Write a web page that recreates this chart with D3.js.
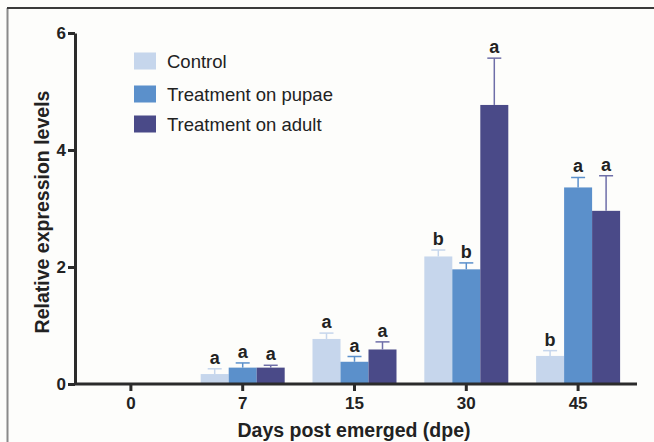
<!DOCTYPE html>
<meta charset="utf-8">
<script src="https://d3js.org/d3.v7.min.js"></script>
<style>
  body { margin: 0; background: #fdfdfb; }
  svg { display: block; font-family: "Liberation Sans", Arial, sans-serif; }
</style>
<div id="chart"></div>
<script>
// data
var days = ["0", "7", "15", "30", "45"];
var groups = ["Control", "Treatment on pupae", "Treatment on adult"];
var control = [0, 0.17, 0.77, 2.18, 0.48];
var controlErr = [0, 0.09, 0.10, 0.11, 0.09];
var pupae = [0, 0.28, 0.38, 1.96, 3.36];
var pupaeErr = [0, 0.08, 0.09, 0.11, 0.17];
var adult = [0, 0.28, 0.59, 4.77, 2.96];
var adultErr = [0, 0.04, 0.13, 0.80, 0.60];
var controlLetters = ["", "a", "a", "b", "b"];
var pupaeLetters = ["", "a", "a", "b", "a"];
var adultLetters = ["", "a", "a", "a", "a"];
var yTicks = [0, 2, 4, 6];

var colors = ["#c6d6ec", "#5b90cb", "#4a4a88"];
var errColors = ["#c6d6ec", "#5b90cb", "#6e6ea8"];

var width = 654, height = 442;
var svg = d3.select("#chart").append("svg")
  .attr("width", width).attr("height", height);

// frame of the figure
svg.append("line").attr("x1", 7.5).attr("x2", 7.5).attr("y1", 8).attr("y2", height)
  .attr("stroke", "#8a8a8a").attr("stroke-width", 2);
svg.append("line").attr("x1", 7).attr("x2", width).attr("y1", 8).attr("y2", 8)
  .attr("stroke", "#3a3a3a").attr("stroke-width", 2);

var x = d3.scaleBand().domain(days).range([75, 634]);
var y = d3.scaleLinear().domain([0, 6]).range([384, 33]);
var sub = d3.scaleBand().domain([0, 1, 2]).range([-42, 42]);

var series = [
  {vals: control, err: controlErr, letters: controlLetters},
  {vals: pupae, err: pupaeErr, letters: pupaeLetters},
  {vals: adult, err: adultErr, letters: adultLetters}
];

series.forEach(function(s, k) {
  var rows = days.map(function(d, i) {
    return {day: d, v: s.vals[i], e: s.err[i], l: s.letters[i]};
  }).filter(function(r) { return r.v > 0; });
  var g = svg.append("g");
  var cx = function(r) { return x(r.day) + x.bandwidth() / 2 + sub(k) + sub.bandwidth() / 2; };

  g.selectAll("rect").data(rows).enter().append("rect")
    .attr("x", function(r) { return x(r.day) + x.bandwidth() / 2 + sub(k); })
    .attr("width", sub.bandwidth())
    .attr("y", function(r) { return y(r.v); })
    .attr("height", function(r) { return y(0) - y(r.v); })
    .attr("fill", colors[k]);

  // error bars (upper only)
  g.selectAll(".err").data(rows).enter().append("line")
    .attr("x1", cx).attr("x2", cx)
    .attr("y1", function(r) { return y(r.v); })
    .attr("y2", function(r) { return y(r.v + r.e); })
    .attr("stroke", errColors[k]).attr("stroke-width", 1.5);
  g.selectAll(".cap").data(rows).enter().append("line")
    .attr("x1", function(r) { return cx(r) - 7; })
    .attr("x2", function(r) { return cx(r) + 7; })
    .attr("y1", function(r) { return y(r.v + r.e); })
    .attr("y2", function(r) { return y(r.v + r.e); })
    .attr("stroke", errColors[k]).attr("stroke-width", 1.5);

  g.selectAll("text").data(rows).enter().append("text")
    .attr("x", cx)
    .attr("y", function(r) { return y(r.v + r.e) - 5; })
    .attr("text-anchor", "middle")
    .style("font-size", "18px").style("font-weight", "bold")
    .attr("fill", "#222")
    .text(function(r) { return r.l; });
});

// axes
var yAxis = svg.append("g").attr("transform", "translate(75,0)")
  .call(d3.axisLeft(y).tickValues(yTicks).tickFormat(d3.format("d"))
    .tickSize(7).tickPadding(2).tickSizeOuter(0));
var xAxis = svg.append("g").attr("transform", "translate(0,384)")
  .call(d3.axisBottom(x).tickSize(7).tickPadding(6).tickSizeOuter(0));
xAxis.select(".domain").attr("d", "M75,0H637");
[yAxis, xAxis].forEach(function(a) {
  a.selectAll("path, line").attr("stroke", "#2b2b2b").attr("stroke-width", 3);
  a.selectAll("text").attr("fill", "#222")
    .style("font-size", "17px").style("font-weight", "bold");
});

// legend
var legY = [61, 94, 124];
groups.forEach(function(name, k) {
  svg.append("rect").attr("x", 134).attr("y", legY[k] - 8.5)
    .attr("width", 22).attr("height", 17).attr("fill", colors[k]);
  svg.append("text").attr("x", 167).attr("y", legY[k] + 6.5)
    .style("font-size", "18.5px").attr("fill", "#222").text(name);
});

// axis titles
svg.append("text")
  .attr("transform", "translate(49,212) rotate(-90)")
  .attr("text-anchor", "middle")
  .style("font-size", "19.5px").style("font-weight", "bold").attr("fill", "#222")
  .text("Relative expression levels");
svg.append("text")
  .attr("x", 354).attr("y", 437)
  .attr("text-anchor", "middle")
  .style("font-size", "19.5px").style("font-weight", "bold").attr("fill", "#222")
  .text("Days post emerged (dpe)");
</script>
